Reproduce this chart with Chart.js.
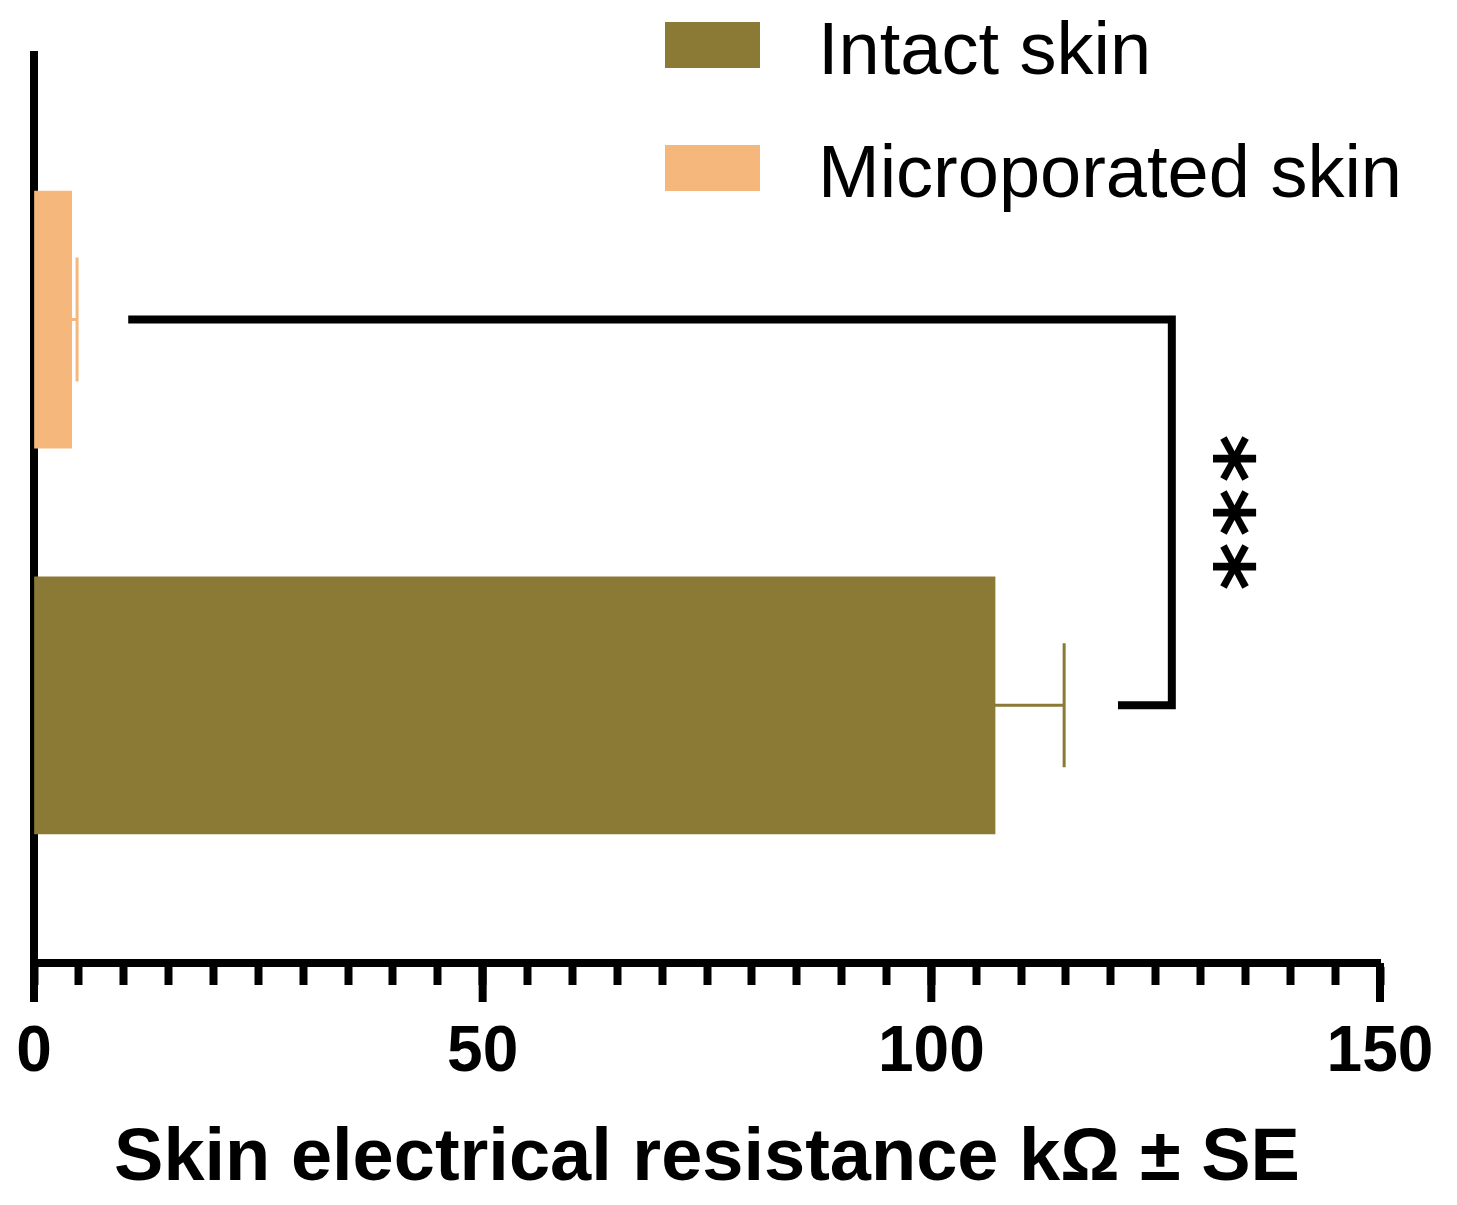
<!DOCTYPE html>
<html>
<head>
  <title>Skin electrical resistance</title>
  <style>
    body {
      margin: 0;
      padding: 0;
      background-color: #fff;
    }
    #wrap {
      width: 1457px;
      height: 1205px;
    }
  </style>
</head>
<body>

  <div id="wrap">
    <canvas id="resistanceChart" width="1457" height="1205"></canvas>
  </div>

<script src="https://cdn.jsdelivr.net/npm/chart.js"></script>
<script>
  // Data (kΩ, mean ± SE)
  const categories = ['Microporated skin', 'Intact skin'];
  const resistance = [4.2, 107.1];
  const se = [0.6, 7.7];
  const barColors = ['#F6B77C', '#8A7A36'];
  const legendOrder = [1, 0];          // Intact first, like the original legend
  const majorTicks = [0, 50, 100, 150];
  const minorStep = 5;

  // significance bracket, in kΩ along the axis
  const bracketStart = 10.5;
  const bracketEnd = 126.8;
  const bracketReturn = 120.8;
  const starsAt = 133.8;
  const stars = '***';

  const FONT = '"Liberation Sans", Arial, sans-serif';

  const annotate = {
    id: 'annotate',
    afterDatasetsDraw(chart) {
      const { ctx, scales: { x, y } } = chart;
      ctx.save();
      // error bars
      resistance.forEach((v, i) => {
        const cy = y.getPixelForValue(i);
        const x0 = x.getPixelForValue(v);
        const x1 = x.getPixelForValue(v + se[i]);
        ctx.strokeStyle = barColors[i];
        ctx.lineWidth = 3;
        ctx.beginPath();
        ctx.moveTo(x0, cy);
        ctx.lineTo(x1, cy);
        ctx.moveTo(x1, cy - 62);
        ctx.lineTo(x1, cy + 62);
        ctx.stroke();
      });
      ctx.restore();
    },
    afterDraw(chart) {
      const { ctx, scales: { x, y } } = chart;
      const bottom = chart.chartArea.bottom;
      ctx.save();
      ctx.strokeStyle = '#000';
      ctx.fillStyle = '#000';
      ctx.lineWidth = 8;

      // long major ticks
      majorTicks.forEach(v => {
        const px = x.getPixelForValue(v);
        ctx.beginPath();
        ctx.moveTo(px, bottom);
        ctx.lineTo(px, bottom + 39);
        ctx.stroke();
      });

      // bracket between the two groups
      const yTop = y.getPixelForValue(0);
      const yBot = y.getPixelForValue(1);
      ctx.lineJoin = 'miter';
      ctx.beginPath();
      ctx.moveTo(x.getPixelForValue(bracketStart), yTop);
      ctx.lineTo(x.getPixelForValue(bracketEnd), yTop);
      ctx.lineTo(x.getPixelForValue(bracketEnd), yBot);
      ctx.lineTo(x.getPixelForValue(bracketReturn), yBot);
      ctx.stroke();

      // stars, turned like the original
      ctx.font = 'bold 92px "DejaVu Sans", sans-serif';
      const sx = x.getPixelForValue(starsAt);
      const sy = (yTop + yBot) / 2;
      [...stars].forEach((s, i) => {
        ctx.save();
        ctx.translate(sx, sy + (i - 1) * 54);
        ctx.rotate(Math.PI / 2);
        const m = ctx.measureText(s);
        const dx = -(m.actualBoundingBoxRight - m.actualBoundingBoxLeft) / 2;
        const dy = (m.actualBoundingBoxAscent - m.actualBoundingBoxDescent) / 2;
        ctx.fillText(s, dx, dy);
        ctx.restore();
      });

      // legend, top right
      ctx.font = '74px ' + FONT;
      ctx.textBaseline = 'alphabetic';
      legendOrder.forEach((idx, row) => {
        const top = 22 + row * 123;
        ctx.fillStyle = barColors[idx];
        ctx.fillRect(665, top, 95, 46);
        ctx.fillStyle = '#000';
        ctx.fillText(categories[idx], 818, top + 52);
      });
      ctx.restore();
    }
  };

  const ctx = document.getElementById('resistanceChart').getContext('2d');
  new Chart(ctx, {
    type: 'bar',
    data: {
      datasets: [{
        label: 'Skin electrical resistance',
        data: categories.map((c, i) => ({ x: resistance[i], y: i })),
        backgroundColor: barColors,
        borderWidth: 0,
        barThickness: 257
      }]
    },
    options: {
      indexAxis: 'y',
      responsive: false,
      animation: false,
      layout: { padding: { left: 34, right: 77, top: 55, bottom: 8 } },
      plugins: {
        legend: { display: false },
        tooltip: { enabled: false }
      },
      scales: {
        x: {
          type: 'linear',
          min: 0,
          max: 150,
          afterFit: s => { s.paddingLeft = 0; s.paddingRight = 0; },
          grid: {
            drawOnChartArea: false,
            tickLength: 22,
            tickWidth: 8,
            tickColor: '#000'
          },
          border: { color: '#000', width: 8 },
          ticks: {
            stepSize: minorStep,
            autoSkip: false,
            maxRotation: 0,
            padding: 36,
            color: '#000',
            font: { family: FONT, size: 64, weight: 'bold', lineHeight: 1 },
            callback: v => majorTicks.includes(v) ? v : ''
          },
          title: {
            display: true,
            text: 'Skin electrical resistance kΩ ± SE',
            color: '#000',
            font: { family: FONT, size: 74, weight: 'bold', lineHeight: 1 },
            padding: { top: 2, bottom: 0 }
          }
        },
        y: {
          type: 'linear',
          min: -0.686,
          max: 1.668,
          reverse: true,
          offset: false,
          z: 1,
          afterFit: s => { s.width = 0; },
          grid: { display: false, offset: false, drawTicks: false, tickLength: 0 },
          border: { color: '#000', width: 8 },
          ticks: { display: false, padding: 0 }
        }
      }
    },
    plugins: [annotate]
  });
</script>

</body>
</html>
